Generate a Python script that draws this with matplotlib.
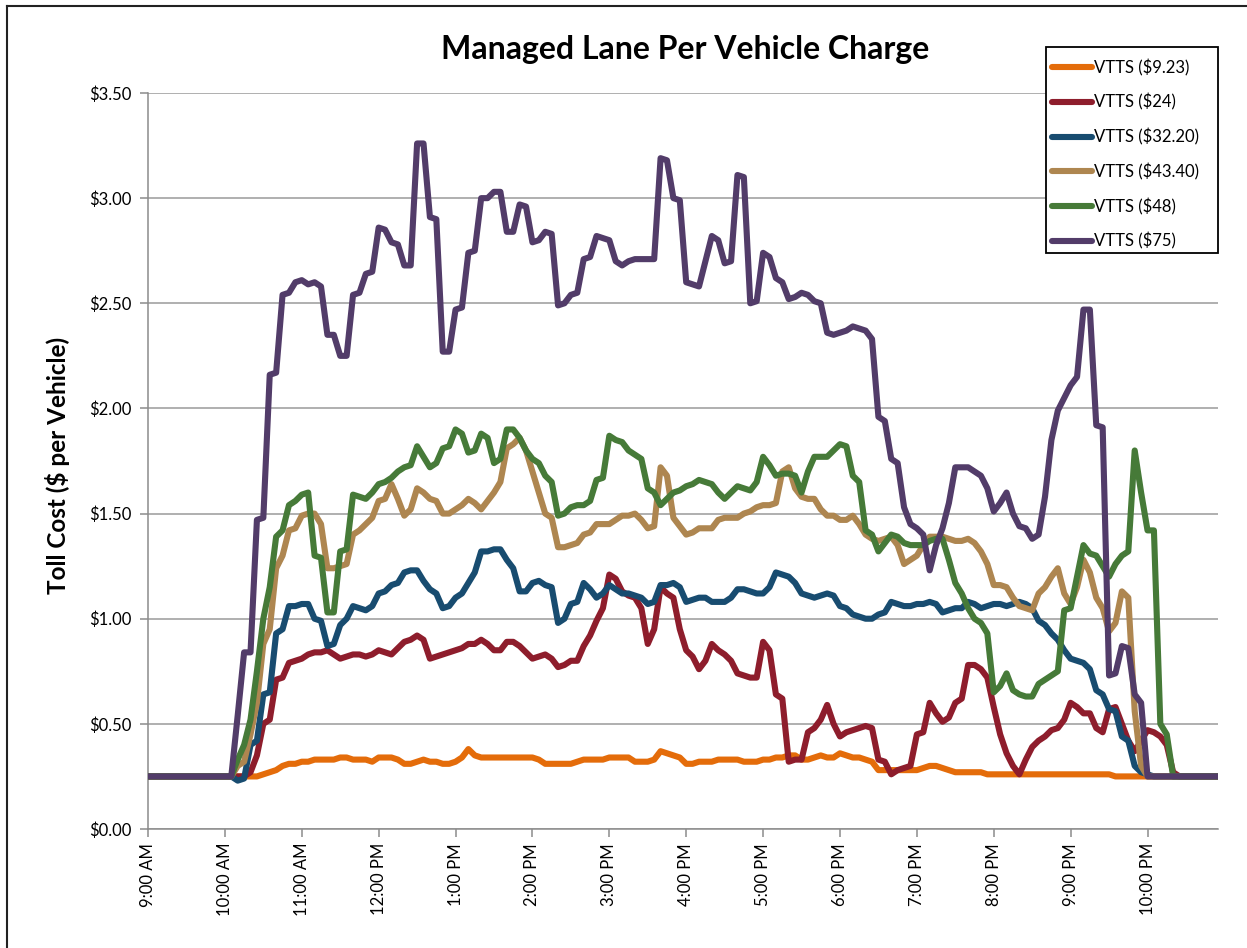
import matplotlib
matplotlib.use("Agg")
import matplotlib.pyplot as plt
from matplotlib.lines import Line2D
from matplotlib.patches import Rectangle
import numpy as np

# ---------------- data (5-minute intervals, 9:00 AM .. 10:55 PM) ----------------
tick_labels = ["9:00 AM", "10:00 AM", "11:00 AM", "12:00 PM", "1:00 PM", "2:00 PM",
               "3:00 PM", "4:00 PM", "5:00 PM", "6:00 PM", "7:00 PM", "8:00 PM",
               "9:00 PM", "10:00 PM"]
series_names = ["VTTS ($9.23)", "VTTS ($24)", "VTTS ($32.20)", "VTTS ($43.40)",
                "VTTS ($48)", "VTTS ($75)"]

vtts_9_23 = [
    0.25, 0.25, 0.25, 0.25, 0.25, 0.25, 0.25, 0.25, 0.25, 0.25, 0.25, 0.25,
    0.25, 0.25, 0.25, 0.25, 0.25, 0.25, 0.26, 0.27, 0.28, 0.30, 0.31, 0.31,
    0.32, 0.32, 0.33, 0.33, 0.33, 0.33, 0.34, 0.34, 0.33, 0.33, 0.33, 0.32,
    0.34, 0.34, 0.34, 0.33, 0.31, 0.31, 0.32, 0.33, 0.32, 0.32, 0.31, 0.31,
    0.32, 0.34, 0.38, 0.35, 0.34, 0.34, 0.34, 0.34, 0.34, 0.34, 0.34, 0.34,
    0.34, 0.33, 0.31, 0.31, 0.31, 0.31, 0.31, 0.32, 0.33, 0.33, 0.33, 0.33,
    0.34, 0.34, 0.34, 0.34, 0.32, 0.32, 0.32, 0.33, 0.37, 0.36, 0.35, 0.34,
    0.31, 0.31, 0.32, 0.32, 0.32, 0.33, 0.33, 0.33, 0.33, 0.32, 0.32, 0.32,
    0.33, 0.33, 0.34, 0.34, 0.35, 0.35, 0.33, 0.33, 0.34, 0.35, 0.34, 0.34,
    0.36, 0.35, 0.34, 0.34, 0.33, 0.32, 0.28, 0.28, 0.28, 0.28, 0.28, 0.28,
    0.28, 0.29, 0.30, 0.30, 0.29, 0.28, 0.27, 0.27, 0.27, 0.27, 0.27, 0.26,
    0.26, 0.26, 0.26, 0.26, 0.26, 0.26, 0.26, 0.26, 0.26, 0.26, 0.26, 0.26,
    0.26, 0.26, 0.26, 0.26, 0.26, 0.26, 0.26, 0.25, 0.25, 0.25, 0.25, 0.25,
    0.25, 0.25, 0.25, 0.25, 0.25, 0.25, 0.25, 0.25, 0.25, 0.25, 0.25, 0.25,
]
vtts_24 = [
    0.25, 0.25, 0.25, 0.25, 0.25, 0.25, 0.25, 0.25, 0.25, 0.25, 0.25, 0.25,
    0.25, 0.25, 0.25, 0.25, 0.27, 0.35, 0.50, 0.52, 0.71, 0.72, 0.79, 0.80,
    0.81, 0.83, 0.84, 0.84, 0.85, 0.83, 0.81, 0.82, 0.83, 0.83, 0.82, 0.83,
    0.85, 0.84, 0.83, 0.86, 0.89, 0.90, 0.92, 0.90, 0.81, 0.82, 0.83, 0.84,
    0.85, 0.86, 0.88, 0.88, 0.90, 0.88, 0.85, 0.85, 0.89, 0.89, 0.87, 0.84,
    0.81, 0.82, 0.83, 0.81, 0.77, 0.78, 0.80, 0.80, 0.87, 0.92, 0.99, 1.05,
    1.21, 1.19, 1.13, 1.11, 1.10, 1.05, 0.88, 0.95, 1.15, 1.12, 1.10, 0.95,
    0.85, 0.82, 0.76, 0.80, 0.88, 0.85, 0.83, 0.80, 0.74, 0.73, 0.72, 0.72,
    0.89, 0.85, 0.64, 0.62, 0.32, 0.33, 0.33, 0.46, 0.48, 0.52, 0.59, 0.50,
    0.44, 0.46, 0.47, 0.48, 0.49, 0.48, 0.33, 0.32, 0.26, 0.28, 0.29, 0.30,
    0.45, 0.46, 0.60, 0.55, 0.51, 0.53, 0.60, 0.62, 0.78, 0.78, 0.76, 0.72,
    0.58, 0.45, 0.36, 0.30, 0.26, 0.33, 0.39, 0.42, 0.44, 0.47, 0.48, 0.52,
    0.60, 0.58, 0.55, 0.55, 0.48, 0.46, 0.57, 0.58, 0.50, 0.42, 0.37, 0.42,
    0.47, 0.46, 0.44, 0.40, 0.27, 0.25, 0.25, 0.25, 0.25, 0.25, 0.25, 0.25,
]
vtts_32_20 = [
    0.25, 0.25, 0.25, 0.25, 0.25, 0.25, 0.25, 0.25, 0.25, 0.25, 0.25, 0.25,
    0.25, 0.25, 0.23, 0.24, 0.40, 0.42, 0.64, 0.65, 0.93, 0.95, 1.06, 1.06,
    1.07, 1.07, 1.00, 0.99, 0.87, 0.88, 0.97, 1.00, 1.06, 1.05, 1.04, 1.06,
    1.12, 1.13, 1.16, 1.17, 1.22, 1.23, 1.23, 1.18, 1.14, 1.12, 1.05, 1.06,
    1.10, 1.12, 1.17, 1.22, 1.32, 1.32, 1.33, 1.33, 1.28, 1.24, 1.13, 1.13,
    1.17, 1.18, 1.16, 1.15, 0.98, 1.00, 1.07, 1.08, 1.17, 1.14, 1.10, 1.12,
    1.16, 1.14, 1.12, 1.12, 1.11, 1.10, 1.07, 1.08, 1.16, 1.16, 1.17, 1.15,
    1.08, 1.09, 1.10, 1.10, 1.08, 1.08, 1.08, 1.10, 1.14, 1.14, 1.13, 1.12,
    1.12, 1.15, 1.22, 1.21, 1.20, 1.17, 1.12, 1.11, 1.10, 1.11, 1.12, 1.11,
    1.06, 1.05, 1.02, 1.01, 1.00, 1.00, 1.02, 1.03, 1.08, 1.07, 1.06, 1.06,
    1.07, 1.07, 1.08, 1.07, 1.03, 1.04, 1.05, 1.05, 1.08, 1.07, 1.05, 1.06,
    1.07, 1.07, 1.06, 1.07, 1.08, 1.07, 1.05, 0.99, 0.97, 0.93, 0.90, 0.85,
    0.81, 0.80, 0.79, 0.76, 0.66, 0.64, 0.57, 0.56, 0.44, 0.42, 0.30, 0.27,
    0.26, 0.25, 0.25, 0.25, 0.25, 0.25, 0.25, 0.25, 0.25, 0.25, 0.25, 0.25,
]
vtts_43_40 = [
    0.25, 0.25, 0.25, 0.25, 0.25, 0.25, 0.25, 0.25, 0.25, 0.25, 0.25, 0.25,
    0.25, 0.25, 0.30, 0.32, 0.45, 0.60, 0.88, 0.95, 1.24, 1.30, 1.42, 1.43,
    1.49, 1.50, 1.50, 1.45, 1.24, 1.24, 1.25, 1.26, 1.40, 1.42, 1.45, 1.48,
    1.56, 1.57, 1.64, 1.57, 1.49, 1.52, 1.62, 1.60, 1.57, 1.56, 1.50, 1.50,
    1.52, 1.54, 1.57, 1.55, 1.52, 1.56, 1.60, 1.65, 1.81, 1.83, 1.86, 1.80,
    1.70, 1.60, 1.50, 1.48, 1.34, 1.34, 1.35, 1.36, 1.40, 1.41, 1.45, 1.45,
    1.45, 1.47, 1.49, 1.49, 1.50, 1.47, 1.43, 1.44, 1.72, 1.68, 1.48, 1.44,
    1.40, 1.41, 1.43, 1.43, 1.43, 1.47, 1.48, 1.48, 1.48, 1.50, 1.51, 1.53,
    1.54, 1.54, 1.55, 1.70, 1.72, 1.62, 1.58, 1.57, 1.57, 1.52, 1.49, 1.49,
    1.47, 1.47, 1.49, 1.45, 1.40, 1.38, 1.37, 1.38, 1.39, 1.35, 1.26, 1.28,
    1.30, 1.35, 1.39, 1.39, 1.39, 1.38, 1.37, 1.37, 1.38, 1.36, 1.32, 1.26,
    1.16, 1.16, 1.15, 1.10, 1.06, 1.05, 1.04, 1.12, 1.15, 1.20, 1.24, 1.12,
    1.07, 1.15, 1.28, 1.22, 1.10, 1.05, 0.94, 0.98, 1.13, 1.10, 0.56, 0.30,
    0.25, 0.25, 0.25, 0.25, 0.25, 0.25, 0.25, 0.25, 0.25, 0.25, 0.25, 0.25,
]
vtts_48 = [
    0.25, 0.25, 0.25, 0.25, 0.25, 0.25, 0.25, 0.25, 0.25, 0.25, 0.25, 0.25,
    0.25, 0.25, 0.33, 0.40, 0.52, 0.75, 1.00, 1.15, 1.39, 1.42, 1.54, 1.56,
    1.59, 1.60, 1.30, 1.29, 1.03, 1.03, 1.32, 1.33, 1.59, 1.58, 1.57, 1.60,
    1.64, 1.65, 1.67, 1.70, 1.72, 1.73, 1.82, 1.77, 1.72, 1.74, 1.81, 1.82,
    1.90, 1.88, 1.79, 1.80, 1.88, 1.86, 1.74, 1.76, 1.90, 1.90, 1.86, 1.80,
    1.76, 1.74, 1.68, 1.65, 1.49, 1.50, 1.53, 1.54, 1.54, 1.56, 1.66, 1.67,
    1.87, 1.85, 1.84, 1.80, 1.78, 1.76, 1.62, 1.60, 1.54, 1.57, 1.60, 1.61,
    1.63, 1.64, 1.66, 1.65, 1.64, 1.60, 1.57, 1.60, 1.63, 1.62, 1.61, 1.65,
    1.77, 1.73, 1.68, 1.69, 1.69, 1.68, 1.60, 1.70, 1.77, 1.77, 1.77, 1.80,
    1.83, 1.82, 1.68, 1.65, 1.42, 1.40, 1.32, 1.36, 1.40, 1.39, 1.36, 1.35,
    1.35, 1.35, 1.37, 1.38, 1.38, 1.28, 1.17, 1.12, 1.05, 1.00, 0.98, 0.93,
    0.65, 0.68, 0.74, 0.66, 0.64, 0.63, 0.63, 0.69, 0.71, 0.73, 0.75, 1.04,
    1.05, 1.20, 1.35, 1.31, 1.30, 1.25, 1.20, 1.26, 1.30, 1.32, 1.80, 1.60,
    1.42, 1.42, 0.50, 0.45, 0.25, 0.25, 0.25, 0.25, 0.25, 0.25, 0.25, 0.25,
]
vtts_75 = [
    0.25, 0.25, 0.25, 0.25, 0.25, 0.25, 0.25, 0.25, 0.25, 0.25, 0.25, 0.25,
    0.25, 0.25, 0.54, 0.84, 0.84, 1.47, 1.48, 2.16, 2.17, 2.54, 2.55, 2.60,
    2.61, 2.59, 2.60, 2.58, 2.35, 2.35, 2.25, 2.25, 2.54, 2.55, 2.64, 2.65,
    2.86, 2.85, 2.79, 2.78, 2.68, 2.68, 3.26, 3.26, 2.91, 2.90, 2.27, 2.27,
    2.47, 2.48, 2.74, 2.75, 3.00, 3.00, 3.03, 3.03, 2.84, 2.84, 2.97, 2.96,
    2.79, 2.80, 2.84, 2.83, 2.49, 2.50, 2.54, 2.55, 2.71, 2.72, 2.82, 2.81,
    2.80, 2.70, 2.68, 2.70, 2.71, 2.71, 2.71, 2.71, 3.19, 3.18, 3.00, 2.99,
    2.60, 2.59, 2.58, 2.70, 2.82, 2.80, 2.69, 2.70, 3.11, 3.10, 2.50, 2.51,
    2.74, 2.72, 2.62, 2.60, 2.52, 2.53, 2.55, 2.54, 2.51, 2.50, 2.36, 2.35,
    2.36, 2.37, 2.39, 2.38, 2.37, 2.33, 1.96, 1.94, 1.76, 1.74, 1.53, 1.45,
    1.43, 1.40, 1.23, 1.35, 1.43, 1.55, 1.72, 1.72, 1.72, 1.70, 1.68, 1.62,
    1.51, 1.55, 1.60, 1.50, 1.44, 1.43, 1.38, 1.40, 1.58, 1.85, 1.99, 2.05,
    2.11, 2.15, 2.47, 2.47, 1.92, 1.91, 0.73, 0.74, 0.87, 0.86, 0.64, 0.60,
    0.25, 0.25, 0.25, 0.25, 0.25, 0.25, 0.25, 0.25, 0.25, 0.25, 0.25, 0.25,
]

colors = ["#E46C0A", "#8E1D2C", "#184C70", "#AE8650", "#467A38", "#523C69"]

# ---------------- figure ----------------
W, H = 1247, 948
plt.rcParams['font.family'] = ['Lato', 'DejaVu Sans']
fig = plt.figure(figsize=(W / 100, H / 100), dpi=100)

# outer chart border
fig.add_artist(Line2D([7 / W, 7 / W], [0, 1 - 5.5 / H], transform=fig.transFigure,
                      color="#222222", lw=1.5))
fig.add_artist(Line2D([7 / W, 1], [1 - 5.5 / H, 1 - 5.5 / H], transform=fig.transFigure,
                      color="#222222", lw=1.5))

left, right, top, bottom = 148, 1218, 93, 829
ax = fig.add_axes([left / W, 1 - bottom / H, (right - left) / W, (bottom - top) / H])

n = len(vtts_75)
x = np.arange(n) / 12.0
all_series = [vtts_9_23, vtts_24, vtts_32_20, vtts_43_40, vtts_48, vtts_75]
handles = []
for vals, c, name in zip(all_series, colors, series_names):
    h, = ax.plot(x, vals, color=c, lw=4.4, solid_joinstyle="round",
                 solid_capstyle="round", label=name, zorder=3)
    handles.append(h)

ax.set_xlim(0, (n - 1) / 12.0)
ax.set_ylim(0, 3.5)
yt = np.arange(0, 3.51, 0.5)
ax.set_yticks(yt)
ax.set_yticklabels([f"${v:.2f}" for v in yt], fontsize=12)
ax.set_xticks(np.arange(len(tick_labels)))
ax.set_xticklabels(tick_labels, rotation=90, fontsize=12)
ax.yaxis.grid(True, color="#9a9a9a", lw=1.1, zorder=0)
ax.xaxis.grid(False)
for s in ["top", "right"]:
    ax.spines[s].set_visible(False)
for s in ["left", "bottom"]:
    ax.spines[s].set_color("#8c8c8c")
    ax.spines[s].set_linewidth(1.1)
ax.tick_params(axis="both", direction="out", length=6, width=1.1,
               color="#8c8c8c", labelcolor="black")
ax.tick_params(axis="x", pad=4)
ax.tick_params(axis="y", pad=6)

fig.text(685 / W, 1 - 50 / H, "Managed Lane Per Vehicle Charge", ha="center",
         va="center", fontsize=23, fontweight="bold")
fig.text(57 / W, 1 - 465 / H, "Toll Cost ($ per Vehicle)", ha="center", va="center",
         rotation=90, fontsize=17.5, fontweight="bold")

# legend frame drawn separately to match the reference box
fig.add_artist(Rectangle((1046 / W, 1 - 253 / H), 172 / W, 206 / H,
                         transform=fig.transFigure, facecolor="white",
                         edgecolor="black", lw=1.3, zorder=5))
leg = fig.legend(handles=handles, labels=series_names, loc="upper left",
                 bbox_to_anchor=(1052 / W, 1 - 59 / H), bbox_transform=fig.transFigure,
                 frameon=False, fontsize=12, handlelength=2.4, handletextpad=0.1,
                 labelspacing=1.06, borderpad=0, borderaxespad=0)
leg.set_zorder(6)

fig.savefig("out.png", dpi=100)
